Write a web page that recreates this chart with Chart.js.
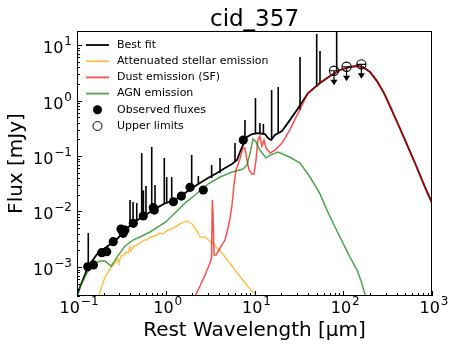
<!DOCTYPE html>
<html>
<head>
<meta charset="utf-8">
<script src="https://cdn.jsdelivr.net/npm/chart.js@4.4.0/dist/chart.umd.min.js"></script>
<style>
html, body { margin: 0; padding: 0; background: #fff; }
canvas { display: block; }
</style>
</head>
<body>
<canvas id="sedChart" width="452" height="350"></canvas>
<script>
// wavelength in micron, flux in mJy
const bestFitWl = [0.1, 0.108, 0.12, 0.133, 0.151, 0.172, 0.207, 0.248, 0.29, 0.347, 0.428, 0.54, 0.665, 0.818, 1.0, 1.27, 1.65, 1.98, 2.43, 2.99, 3.78, 4.65, 5.58, 6.35, 6.87, 7.42, 8.23, 9.37, 10.9, 13.1, 14.2, 15.3, 17.0, 20.4, 23.9, 30.9, 40.1, 54.7, 71, 91.9, 119, 143, 167, 200, 240, 288, 336, 404, 497, 643, 833, 1000];
const bestFitFlux = [0.0003, 0.000436, 0.00066, 0.001, 0.00134, 0.00179, 0.0022, 0.0027, 0.00333, 0.00464, 0.00621, 0.00796, 0.0098, 0.012, 0.0142, 0.0161, 0.0215, 0.0265, 0.0326, 0.0402, 0.0494, 0.0608, 0.0718, 0.0847, 0.118, 0.158, 0.22, 0.249, 0.259, 0.249, 0.211, 0.194, 0.239, 0.282, 0.40, 0.72, 1.36, 2.07, 2.76, 3.55, 4.02, 4.19, 4.02, 3.27, 2.24, 1.36, 0.796, 0.41, 0.194, 0.0748, 0.0276, 0.0142];

// emission lines on top of the best fit
const lineWl = [0.134, 0.396, 0.428, 0.471, 0.536, 0.56, 0.599, 0.695, 0.757, 0.963, 1.025, 1.167, 1.96, 2.33, 3.29, 4.09, 6.03, 7.81, 10.25, 11.5, 12.6, 15.6, 18.5, 32.6, 50.2, 54.7, 84.3];
const lineBase = [0.00104, 0.00548, 0.00621, 0.00703, 0.00796, 0.0083, 0.009, 0.0102, 0.0111, 0.0136, 0.0142, 0.0155, 0.0276, 0.0313, 0.0402, 0.0494, 0.078, 0.186, 0.259, 0.259, 0.249, 0.194, 0.259, 0.675, 1.75, 1.98, 3.13];
const linePeak = [0.0041, 0.0161, 0.0148, 0.0142, 0.113, 0.024, 0.0288, 0.145, 0.030, 0.092, 0.0418, 0.0418, 0.104, 0.0436, 0.0689, 0.092, 0.171, 0.445, 1.11, 0.394, 0.378, 1.55, 1.75, 6.08, 15.8, 7.8, 28];

const stellarWl = [0.176, 0.19, 0.207, 0.235, 0.268, 0.29, 0.297, 0.313, 0.339, 0.357, 0.376, 0.396, 0.406, 0.439, 0.474, 0.513, 0.569, 0.615, 0.665, 0.757, 0.861, 0.931, 1.06, 1.18, 1.27, 1.52, 1.74, 1.98, 2.25, 2.43, 2.77, 3.32, 4.3, 6.03, 8.45, 10.9];
const stellarFlux = [0.0003, 0.00045, 0.00066, 0.00092, 0.00118, 0.00139, 0.00123, 0.00158, 0.00164, 0.00186, 0.00179, 0.00229, 0.00194, 0.00239, 0.00249, 0.0027, 0.00306, 0.00306, 0.00347, 0.00362, 0.0041, 0.00394, 0.00464, 0.00484, 0.00526, 0.00621, 0.00675, 0.00596, 0.00446, 0.00347, 0.00347, 0.0027, 0.00179, 0.00088, 0.00044, 0.00029];

const dustWl = [2.14, 2.43, 2.77, 3.15, 3.28, 3.35, 3.41, 3.5, 3.68, 4.09, 4.65, 5.03, 5.3, 5.58, 5.87, 6.19, 6.52, 6.87, 7.42, 7.81, 8.23, 8.67, 9.37, 9.87, 10.4, 10.9, 11.5, 12.1, 12.8, 13.5, 15.0, 17.0, 20.4, 25.1, 32.6, 40.1, 54.7, 71, 91.9, 119, 143, 167, 200, 240, 288, 336, 404, 497, 643, 833, 1000];
const dustFlux = [0.0003, 0.000455, 0.000718, 0.00118, 0.00145, 0.0161, 0.00865, 0.00164, 0.00164, 0.0022, 0.00306, 0.00505, 0.00764, 0.0131, 0.03, 0.056, 0.07, 0.09, 0.14, 0.139, 0.0847, 0.056, 0.0474, 0.0474, 0.0847, 0.194, 0.229, 0.151, 0.194, 0.139, 0.113, 0.128, 0.171, 0.30, 0.70, 1.36, 2.07, 2.76, 3.55, 4.02, 4.19, 4.02, 3.27, 2.24, 1.36, 0.796, 0.41, 0.194, 0.0748, 0.0276, 0.0142];

const agnWl = [0.1, 0.108, 0.123, 0.14, 0.16, 0.182, 0.207, 0.242, 0.261, 0.282, 0.347, 0.428, 0.54, 0.665, 0.818, 1.0, 1.27, 1.65, 2.14, 2.99, 4.09, 5.58, 7.42, 8.23, 8.9, 9.62, 10.4, 11.5, 13.5, 15.0, 18.4, 25.1, 32.6, 42.2, 54.7, 65.6, 80.7, 99.3, 119, 143, 160, 178];
const agnFlux = [0.0003, 0.00044, 0.00066, 0.00096, 0.00118, 0.00128, 0.00128, 0.00104, 0.00123, 0.00151, 0.00239, 0.00306, 0.00362, 0.00427, 0.00526, 0.00647, 0.0094, 0.0142, 0.0198, 0.0313, 0.0418, 0.0515, 0.0583, 0.0689, 0.113, 0.202, 0.179, 0.128, 0.092, 0.104, 0.118, 0.095, 0.0748, 0.0418, 0.0207, 0.0106, 0.00526, 0.0027, 0.00151, 0.00088, 0.00054, 0.0003];

const obsWl = [0.132, 0.153, 0.19, 0.216, 0.256, 0.313, 0.332, 0.347, 0.431, 0.558, 0.724, 0.743, 1.22, 1.5, 1.88, 2.65, 7.48];
const obsFlux = [0.00101, 0.00109, 0.00181, 0.00189, 0.00286, 0.00484, 0.00404, 0.00464, 0.00612, 0.0083, 0.0117, 0.0106, 0.015, 0.019, 0.0273, 0.0244, 0.194];

const ulWl = [78.7, 109, 160];
const ulFlux = [3.44, 4.06, 4.49];

const xTickExp = [-1, 0, 1, 2, 3];
const yTickExp = [-3, -2, -1, 0, 1];

const X_MIN = 0.1, X_MAX = 1000;
const Y_MIN = 3.02e-4, Y_MAX = 17.9;

const FONT = '"DejaVu Sans", "Liberation Sans", sans-serif';
const BLACK = '#000000';
const ORANGE = 'rgba(255, 165, 0, 0.7)';
const RED = 'rgba(255, 0, 0, 0.7)';
const GREEN = 'rgba(0, 128, 0, 0.7)';

function toXY(xs, ys) {
    return xs.map((x, i) => ({ x: x, y: ys[i] }));
}

// each emission line is a vertical stroke, broken by a null
const lineData = [];
lineWl.forEach((w, i) => {
    lineData.push({ x: w, y: lineBase[i] });
    lineData.push({ x: w, y: linePeak[i] });
    lineData.push({ x: w, y: null });
});

function tickKind(value) {
    const e = Math.floor(Math.log10(value) + 1e-9);
    const m = value / Math.pow(10, e);
    const rm = Math.round(m);
    if (Math.abs(m - rm) > 0.01) return null;
    return rm === 1 || rm === 10 ? 'major' : 'minor';
}

// "10" with a raised exponent, like matplotlib's mathtext
function drawPow(ctx, exp, x, baseline, align) {
    const expText = String(exp).replace('-', '\u2212');
    ctx.font = '16px ' + FONT;
    const wBase = ctx.measureText('10').width;
    ctx.font = '12px ' + FONT;
    const wExp = ctx.measureText(expText).width;
    const total = wBase + 1 + wExp;
    let left = x - total / 2;
    if (align === 'right') left = x - total;
    ctx.textAlign = 'left';
    ctx.textBaseline = 'alphabetic';
    ctx.font = '16px ' + FONT;
    ctx.fillText('10', left, baseline);
    ctx.font = '12px ' + FONT;
    ctx.fillText(expText, left + wBase + 1, baseline - 8);
}

const legendItems = [
    { label: 'Best fit', type: 'line', color: BLACK },
    { label: 'Attenuated stellar emission', type: 'line', color: ORANGE },
    { label: 'Dust emission (SF)', type: 'line', color: RED },
    { label: 'AGN emission', type: 'line', color: GREEN },
    { label: 'Observed fluxes', type: 'dot' },
    { label: 'Upper limits', type: 'ring' }
];

const sedDecor = {
    id: 'sedDecor',
    afterDatasetsDraw(chart) {
        const { ctx, scales } = chart;
        ctx.save();
        ctx.strokeStyle = BLACK;
        ctx.fillStyle = BLACK;
        ctx.lineWidth = 1.2;
        // upper limit arrows
        ulWl.forEach((w, i) => {
            const px = scales.x.getPixelForValue(w);
            const py = scales.y.getPixelForValue(ulFlux[i]);
            ctx.beginPath();
            ctx.moveTo(px - 4.5, py);
            ctx.lineTo(px + 4.5, py);
            ctx.moveTo(px, py);
            ctx.lineTo(px, py + 10);
            ctx.stroke();
            ctx.beginPath();
            ctx.moveTo(px - 3.5, py + 9);
            ctx.lineTo(px + 3.5, py + 9);
            ctx.lineTo(px, py + 14.5);
            ctx.closePath();
            ctx.fill();
        });
        ctx.restore();
    },
    afterDraw(chart) {
        const { ctx, chartArea: a, scales } = chart;
        ctx.save();
        // frame
        ctx.strokeStyle = BLACK;
        ctx.lineWidth = 1;
        ctx.strokeRect(a.left + 0.5, a.top + 0.5, a.right - a.left - 1, a.bottom - a.top - 1);

        // inward ticks
        ctx.beginPath();
        scales.x.ticks.forEach(t => {
            const k = tickKind(t.value);
            if (!k) return;
            const px = Math.round(scales.x.getPixelForValue(t.value)) + 0.5;
            ctx.moveTo(px, a.bottom);
            ctx.lineTo(px, a.bottom - (k === 'major' ? 5 : 3));
        });
        scales.y.ticks.forEach(t => {
            const k = tickKind(t.value);
            if (!k) return;
            const py = Math.round(scales.y.getPixelForValue(t.value)) + 0.5;
            ctx.moveTo(a.left, py);
            ctx.lineTo(a.left + (k === 'major' ? 5 : 3), py);
        });
        ctx.stroke();

        // tick labels
        ctx.fillStyle = BLACK;
        xTickExp.forEach(e => {
            const px = scales.x.getPixelForValue(Math.pow(10, e));
            drawPow(ctx, e, px + 2, a.bottom + 17, 'center');
        });
        yTickExp.forEach(e => {
            const py = scales.y.getPixelForValue(Math.pow(10, e));
            drawPow(ctx, e, a.left - 5, py + 8, 'right');
        });

        // title and axis titles
        ctx.textAlign = 'center';
        ctx.textBaseline = 'alphabetic';
        ctx.font = '23px ' + FONT;
        ctx.fillText('cid_357', (a.left + a.right) / 2, 26);
        ctx.font = '20px ' + FONT;
        ctx.fillText('Rest Wavelength [\u03BCm]', (a.left + a.right) / 2, 336);
        ctx.save();
        ctx.translate(21.5, (a.top + a.bottom) / 2);
        ctx.rotate(-Math.PI / 2);
        ctx.fillText('Flux [mJy]', 0, 0);
        ctx.restore();

        // legend
        ctx.font = '11px ' + FONT;
        ctx.textAlign = 'left';
        ctx.textBaseline = 'middle';
        legendItems.forEach((item, i) => {
            const y = 45 + i * 16.2;
            if (item.type === 'line') {
                ctx.strokeStyle = item.color;
                ctx.lineWidth = 1.8;
                ctx.beginPath();
                ctx.moveTo(86, y);
                ctx.lineTo(109, y);
                ctx.stroke();
            } else {
                ctx.beginPath();
                ctx.arc(97.5, y, 4.5, 0, Math.PI * 2);
                if (item.type === 'dot') {
                    ctx.fillStyle = BLACK;
                    ctx.fill();
                } else {
                    ctx.strokeStyle = BLACK;
                    ctx.lineWidth = 1;
                    ctx.stroke();
                }
            }
            ctx.fillStyle = BLACK;
            ctx.fillText(item.label, 117, y);
        });
        ctx.restore();
    }
};

new Chart(document.getElementById('sedChart'), {
    type: 'line',
    data: {
        datasets: [
            {
                label: 'Best fit',
                data: toXY(bestFitWl, bestFitFlux),
                borderColor: BLACK,
                borderWidth: 1.8,
                pointRadius: 0,
                order: 5
            },
            {
                label: 'lines',
                data: lineData,
                borderColor: BLACK,
                borderWidth: 1.6,
                pointRadius: 0,
                spanGaps: false,
                order: 5
            },
            {
                label: 'Attenuated stellar emission',
                data: toXY(stellarWl, stellarFlux),
                borderColor: ORANGE,
                borderWidth: 1.5,
                pointRadius: 0,
                order: 4
            },
            {
                label: 'Dust emission (SF)',
                data: toXY(dustWl, dustFlux),
                borderColor: RED,
                borderWidth: 1.5,
                pointRadius: 0,
                order: 3
            },
            {
                label: 'AGN emission',
                data: toXY(agnWl, agnFlux),
                borderColor: GREEN,
                borderWidth: 1.5,
                pointRadius: 0,
                order: 2
            },
            {
                label: 'Observed fluxes',
                data: toXY(obsWl, obsFlux),
                showLine: false,
                pointRadius: 4.6,
                pointBackgroundColor: BLACK,
                pointBorderColor: BLACK,
                pointBorderWidth: 0,
                order: 1
            },
            {
                label: 'Upper limits',
                data: toXY(ulWl, ulFlux),
                showLine: false,
                pointRadius: 4.6,
                pointBackgroundColor: 'rgba(0,0,0,0)',
                pointBorderColor: BLACK,
                pointBorderWidth: 1.1,
                order: 0
            }
        ]
    },
    options: {
        responsive: false,
        animation: false,
        devicePixelRatio: 1,
        layout: { padding: { top: 31, right: 20, left: 0, bottom: 0 } },
        elements: { line: { tension: 0, fill: false } },
        plugins: {
            legend: { display: false },
            title: { display: false },
            tooltip: { enabled: false }
        },
        scales: {
            x: {
                type: 'logarithmic',
                min: X_MIN,
                max: X_MAX,
                grid: { display: false, drawTicks: false },
                border: { display: false },
                ticks: { autoSkip: false, maxRotation: 0, callback: () => '' },
                afterFit: s => {
                    s.height = 54;
                    s.paddingLeft = 0;
                    s.paddingRight = 0;
                }
            },
            y: {
                type: 'logarithmic',
                min: Y_MIN,
                max: Y_MAX,
                grid: { display: false, drawTicks: false },
                border: { display: false },
                ticks: { autoSkip: false, callback: () => '' },
                afterFit: s => {
                    s.width = 77;
                    s.paddingTop = 0;
                    s.paddingBottom = 0;
                }
            }
        }
    },
    plugins: [sedDecor]
});
</script>
</body>
</html>
